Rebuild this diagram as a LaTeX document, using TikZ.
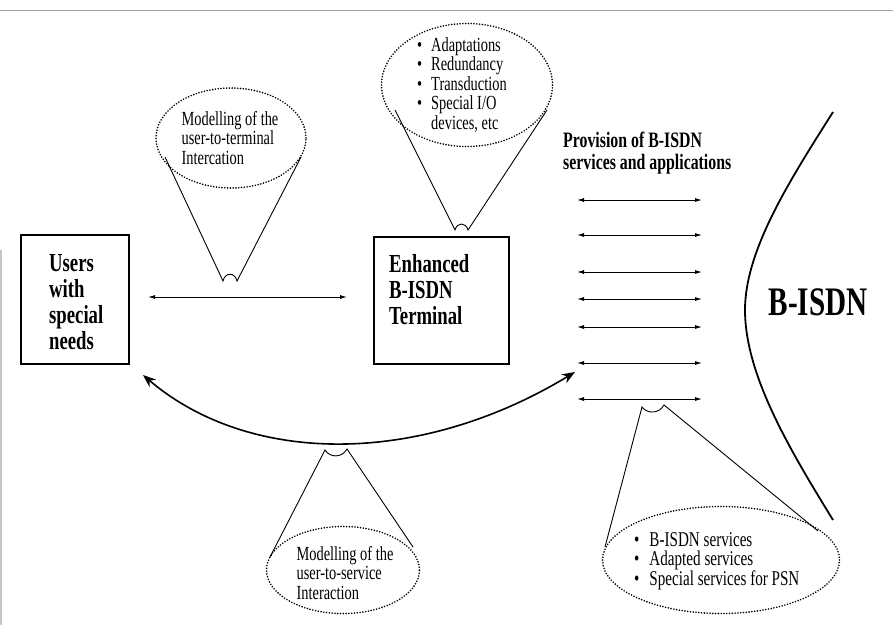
\documentclass[tikz,border=0pt]{standalone}
\usepackage{fontspec}
\setmainfont{Liberation Serif}[FakeStretch=0.72]
\usetikzlibrary{shapes.geometric,arrows.meta}
\begin{document}
\begin{tikzpicture}[x=1pt,y=-1pt,
  bubble/.style={ellipse,draw,line width=1.8pt,dash pattern=on 0pt off 2.8pt,line cap=round,inner sep=0pt},
  btext/.style={align=left,font=\fontsize{20}{19.5}\selectfont,inner sep=0pt},
  boxnode/.style={draw,line width=1.2pt,inner sep=0pt},
  boxtext/.style={align=left,font=\fontsize{26}{26}\selectfont\bfseries,inner sep=0pt},
  cone/.style={line width=0.9pt},
  sarrow/.style={line width=0.9pt,{Latex[length=7pt,width=4pt]}-{Latex[length=7pt,width=4pt]}},
  barrow/.style={line width=1.6pt,{Stealth[length=13pt,width=10pt]}-{Stealth[length=13pt,width=10pt]}}]
\useasboundingbox (0,0) rectangle (893,625);
% frame remnants
\draw[gray!70,line width=1pt] (0,10) -- (893,10);
\draw[gray!45,line width=1.2pt] (1,250) -- (1,625);

% boxes
\node[boxnode,minimum width=108pt,minimum height=129pt] (users) at (75,299.5) {};
\node[boxtext,anchor=west] (userst) at (49,302) {Users\\with\\special\\needs};
\node[boxnode,minimum width=135pt,minimum height=127pt] (term) at (441.5,300.5) {};
\node[boxtext,anchor=west] (termt) at (389,290) {Enhanced\\B-ISDN\\Terminal};

% arrow between boxes
\coordinate (ua) at (148,297);
\coordinate (tb) at (347,297);
\draw[sarrow] (ua) -- (tb);

% provision text and arrows
\node[align=left,anchor=west,inner sep=0pt,font=\fontsize{22}{21.5}\selectfont\bfseries] (prov) at (563,153) {Provision of B-ISDN\\services and applications};
\foreach \y [count=\i] in {200,235,272,299,327,363,399}{
  \coordinate (pl\i) at (577,\y);
  \coordinate (pr\i) at (702,\y);
  \draw[sarrow] (pl\i) -- (pr\i);
}

% B-ISDN
\coordinate (c1) at (833,112);
\coordinate (c2) at (745,310);
\coordinate (c3) at (833,520);
\draw[line width=1.8pt] (c1) .. controls (790,180) and (745,250) .. (c2) .. controls (745,375) and (790,450) .. (c3);
\node[inner sep=0pt,font=\fontsize{40.5}{42}\selectfont\bfseries] (bisdn) at (818,302) {B-ISDN};

% curved arrow
\coordinate (cl) at (143,375);
\coordinate (cr) at (575,372);
\draw[barrow] (cl) .. controls (250,466) and (420,466) .. (cr);

% bubble 1
\node[bubble,minimum width=150pt,minimum height=100pt] (e1) at (231,138) {};
\node[btext] (t1) at (230,138) {Modelling of the\\user-to-terminal\\Intercation};
\coordinate (e1a) at (165,157);
\coordinate (e1b) at (301,157);
\coordinate (n1a) at (223,281);
\coordinate (n1b) at (237,281);
\draw[cone] (e1a) -- (n1a) .. controls (225,272) and (235,272) .. (n1b) -- (e1b);

% bubble 2
\node[bubble,minimum width=171pt,minimum height=123pt] (e2) at (467,85) {};
\node[btext,anchor=north west] (t2) at (417,37) {%
\textbullet\hspace{9pt}Adaptations\\
\textbullet\hspace{9pt}Redundancy\\
\textbullet\hspace{9pt}Transduction\\
\textbullet\hspace{9pt}Special I/O\\
\hphantom{\textbullet\hspace{9pt}}devices, etc};
\coordinate (e2a) at (395,110);
\coordinate (e2b) at (547,110);
\coordinate (n2a) at (455,230);
\coordinate (n2b) at (468,230);
\draw[cone] (e2a) -- (n2a) .. controls (457,222) and (466,222) .. (n2b) -- (e2b);

% bubble 3
\node[bubble,minimum width=153pt,minimum height=87pt] (e3) at (343,570) {};
\node[btext] (t3) at (345,573) {Modelling of the\\user-to-service\\Interaction};
\coordinate (e3a) at (270,557);
\coordinate (e3b) at (413,547);
\coordinate (n3a) at (325,450);
\coordinate (n3b) at (347,449);
\draw[cone] (e3a) -- (n3a) .. controls (330,458) and (342,458) .. (n3b) -- (e3b);

% bubble 4
\node[bubble,minimum width=237pt,minimum height=107pt] (e4) at (721,560) {};
\node[align=left,inner sep=0pt,font=\fontsize{21}{19}\selectfont,anchor=west] (t4) at (634,561) {%
\textbullet\hspace{10pt}B-ISDN services\\
\textbullet\hspace{10pt}Adapted services\\
\textbullet\hspace{10pt}Special services for PSN};
\coordinate (e4a) at (605,547);
\coordinate (e4b) at (818,531);
\coordinate (n4a) at (642,407);
\coordinate (n4b) at (664,405);
\draw[cone] (e4a) -- (n4a) .. controls (647,414) and (659,414) .. (n4b) -- (e4b);
\end{tikzpicture}
\end{document}
